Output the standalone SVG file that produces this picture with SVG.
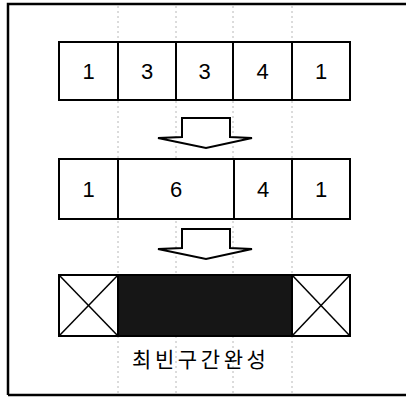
<svg xmlns="http://www.w3.org/2000/svg" width="406" height="399" viewBox="0 0 406 399">
<style>
.cell{fill:#fff;stroke:#000;stroke-width:2}
.num{font-family:"Liberation Sans",Arial,sans-serif;font-size:22px;fill:#000;text-anchor:middle}
.guide{stroke:#b8b8b8;stroke-width:1;stroke-dasharray:2 3}
.arrow{fill:#fff;stroke:#000;stroke-width:2;stroke-linejoin:miter}
.x{stroke:#000;stroke-width:1.5}
</style>
<rect x="0" y="0" width="406" height="399" fill="#fff"/>
<g id="frame">
<path d="M8,395 V4 H406" fill="none" stroke="#000" stroke-width="2.5"/>
<path d="M8,395 H406" fill="none" stroke="#000" stroke-width="2.5"/>
</g>
<g id="guides">
<line class="guide" x1="118" y1="6" x2="118" y2="393"/>
<line class="guide" x1="176" y1="6" x2="176" y2="393"/>
<line class="guide" x1="233" y1="6" x2="233" y2="393"/>
<line class="guide" x1="292" y1="6" x2="292" y2="393"/>
</g>
<g id="row1">
<rect class="cell" x="59" y="42" width="59" height="58"/>
<rect class="cell" x="118" y="42" width="58" height="58"/>
<rect class="cell" x="176" y="42" width="57" height="58"/>
<rect class="cell" x="233" y="42" width="59" height="58"/>
<rect class="cell" x="292" y="42" width="58" height="58"/>
<text class="num" x="88.5" y="79">1</text>
<text class="num" x="147" y="79">3</text>
<text class="num" x="204.5" y="79">3</text>
<text class="num" x="262.5" y="79">4</text>
<text class="num" x="321" y="79">1</text>
</g>
<g id="connectors">
<polygon class="arrow" points="182,118 230,118 230,137 252,138 206,148 158,138 182,137"/>
<polygon class="arrow" points="182,229 230,229 230,248 252,249 206,259 158,249 182,248"/>
</g>
<g id="row2">
<rect class="cell" x="59" y="159" width="59" height="60"/>
<rect class="cell" x="118" y="159" width="116" height="60"/>
<rect class="cell" x="234" y="159" width="58" height="60"/>
<rect class="cell" x="292" y="159" width="58" height="60"/>
<text class="num" x="88.5" y="197">1</text>
<text class="num" x="176" y="197">6</text>
<text class="num" x="263" y="197">4</text>
<text class="num" x="321" y="197">1</text>
</g>
<g id="row3">
<rect class="cell" x="59" y="275" width="59" height="61"/>
<line class="x" x1="59" y1="275" x2="118" y2="336"/>
<line class="x" x1="118" y1="275" x2="59" y2="336"/>
<rect x="118" y="275" width="174" height="61" fill="#161616" stroke="#000" stroke-width="2"/>
<rect class="cell" x="292" y="275" width="58" height="61"/>
<line class="x" x1="292" y1="275" x2="350" y2="336"/>
<line class="x" x1="350" y1="275" x2="292" y2="336"/>
</g>
<g id="label">
<text x="132" y="367" font-family="'Noto Sans CJK KR',sans-serif" font-size="21" letter-spacing="3.6" fill="#000">최빈구간완성</text>
</g>
</svg>
